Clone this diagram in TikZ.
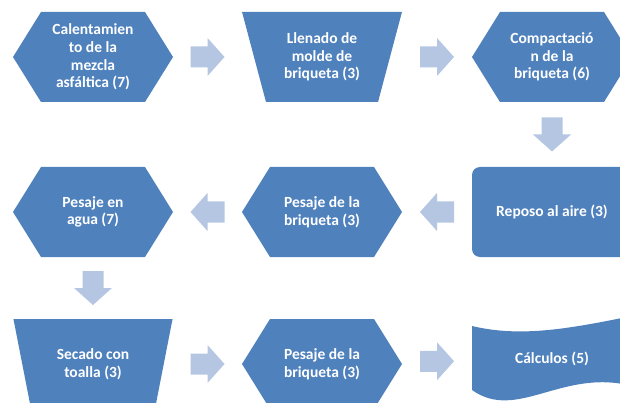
\documentclass[tikz,border=0pt]{standalone}
\usepackage{fontspec}
\setmainfont{Carlito}
\usepackage{xcolor}
\usetikzlibrary{shapes.geometric,calc}
\definecolor{boxblue}{HTML}{4F81BD}
\definecolor{arrowblue}{HTML}{B5C6E2}
\tikzset{pics/blockarrow/.style={code={%
  \fill[arrowblue] (-17,-10.5) -- (0,-10.5) -- (0,-19) -- (17,0) -- (0,19) -- (0,10.5) -- (-17,10.5) -- cycle;}}}

\begin{document}
\begin{tikzpicture}[x=1pt,y=1pt,
  txt/.style={text=white,font=\bfseries\fontsize{15.5}{17.7}\selectfont,align=center,inner sep=0pt,
    minimum width=160pt,minimum height=90pt},
  hexa/.style={txt,rectangle,path picture={
    \fill[boxblue] (path picture bounding box.west) -- ([xshift=28pt]path picture bounding box.north west)
      -- ([xshift=-28pt]path picture bounding box.north east) -- (path picture bounding box.east)
      -- ([xshift=-28pt]path picture bounding box.south east) -- ([xshift=28pt]path picture bounding box.south west) -- cycle;}},
  trap/.style={txt,fill=boxblue,trapezium,shape border rotate=180,trapezium stretches=true,
    trapezium left angle=71.6,trapezium right angle=71.6},
  box/.style={txt,fill=boxblue,rectangle,rounded corners=8pt},
  wave/.style={txt,rectangle,minimum height=87pt,path picture={
    \fill[boxblue] ([yshift=-11pt]path picture bounding box.north west)
      .. controls +(50,-12) and +(-60,-12) .. ([yshift=-1pt]path picture bounding box.north east)
      -- ([yshift=16pt]path picture bounding box.south east)
      .. controls +(-70,18) and +(45,-32) .. ([yshift=12pt]path picture bounding box.south west) -- cycle;}}]
\useasboundingbox (0,0) rectangle (620,-403);
\clip (0,0) rectangle (620,-403);
% first row
\node[hexa] (calent) at (93,-57) {Calentamien\\to de la\\mezcla\\asfáltica (7)};
\node[trap] (llenado) at (322,-57) {Llenado de\\molde de\\briqueta (3)};
\node[hexa] (compact) at (552,-57) {Compactació\\n de la\\briqueta (6)};
% second row
\node[box] (reposo) at (552,-212) {Reposo al aire (3)};
\node[hexa] (pesaje1) at (322,-212) {Pesaje de la\\briqueta (3)};
\node[hexa] (agua) at (93,-212) {Pesaje en\\agua (7)};
% third row
\node[trap] (secado) at (93,-364) {Secado con\\toalla (3)};
\node[hexa] (pesaje2) at (322,-364) {Pesaje de la\\briqueta (3)};
\node[wave] (calculos) at (552,-358.5) {Cálculos (5)};
% arrows
\pic at ($(calent)!0.5!(llenado)$) {blockarrow};
\pic at ($(llenado)!0.5!(compact)$) {blockarrow};
\pic[rotate=-90] at ($(compact)!0.5!(reposo)$) {blockarrow};
\pic[rotate=180] at ($(reposo)!0.5!(pesaje1)$) {blockarrow};
\pic[rotate=180] at ($(pesaje1)!0.5!(agua)$) {blockarrow};
\pic[rotate=-90] at ($(agua)!0.5!(secado)$) {blockarrow};
\pic at ($(secado)!0.5!(pesaje2)$) {blockarrow};
\pic at ($(pesaje2)!0.5!(calculos)$) {blockarrow};
\end{tikzpicture}
\end{document}
